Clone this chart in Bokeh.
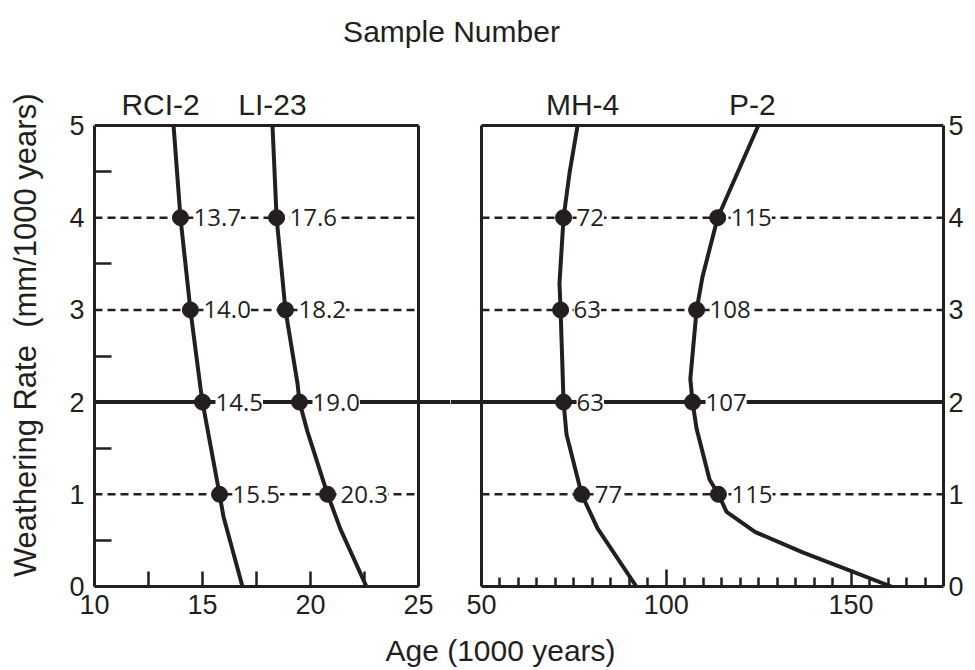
import math
from bokeh.plotting import figure
from bokeh.models import (ColumnDataSource, LabelSet, Label, Span, FixedTicker, Range1d)
from bokeh.layouts import row, column
from bokeh.embed import file_html
from bokeh.resources import INLINE
from bokeh.core.properties import value

# ---------------- data ----------------
rate_levels = [0, 1, 2, 3, 4, 5]
rate_minor = [0.5, 1.5, 2.5, 3.5, 4.5]
dashed_rates = [1, 3, 4]
solid_rate = 2
rate_lim = (0, 5)

left_xlim = (10, 25)
left_ticks = [10, 15, 20, 25]
left_minor = [12.5, 17.5, 22.5]
right_xlim = (50, 175)
right_ticks = [50, 100, 150]
right_minor = [55, 60, 65, 70, 75, 80, 85, 90, 95, 105, 110, 115, 120, 125,
               130, 135, 140, 145, 155, 160, 165, 170]

# curves (age in 1000 years, weathering rate in mm/1000 years)
rci2_age = [13.66, 13.98, 14.44, 14.91, 15.0, 15.79, 15.97, 16.85]
rci2_rate = [5, 4, 3, 2.15, 2, 1, 0.76, 0]
li23_age = [18.24, 18.43, 18.84, 19.4, 19.49, 19.86, 20.79, 21.39, 22.59]
li23_rate = [5, 4, 3, 2.2, 2, 1.68, 1, 0.62, 0]
mh4_age = [76.0, 73.8, 72.2, 71.1, 71.4, 72.2, 73.0, 77.1, 81.4, 91.9]
mh4_rate = [5, 4.48, 4, 3.29, 3, 2, 1.65, 1, 0.63, 0]
p2_age = [124.9, 113.9, 109.8, 108.2, 106.5, 107.1, 108.2, 111.7, 114.1,
          116.3, 124.1, 136.9, 160.9]
p2_rate = [5, 4, 3.36, 3, 2.25, 2, 1.71, 1.16, 1, 0.81, 0.59, 0.37, 0]

# marked points
dot_rates = [4, 3, 2, 1]
rci2_dot_age = [13.98, 14.44, 15.0, 15.79]
rci2_labels = ["13.7", "14.0", "14.5", "15.5"]
li23_dot_age = [18.43, 18.84, 19.49, 20.79]
li23_labels = ["17.6", "18.2", "19.0", "20.3"]
mh4_dot_age = [72.2, 71.4, 72.2, 77.1]
mh4_labels = ["72", "63", "63", "77"]
p2_dot_age = [113.9, 108.2, 107.1, 114.1]
p2_labels = ["115", "108", "107", "115"]

sample_names = ["RCI-2", "LI-23", "MH-4", "P-2"]
name_offsets = [-13, 0, 5, -6]

INK = "#231f20"
SANS = "Liberation Sans"
NUMF = "Open Sans"
BIG = "30px"

# layout (pixels)
YLAB_W, LB, FW_L, GAP_L, GAP_R, FW_R, RB = 48, 46, 324, 32, 31, 462, 24
TOTAL_W = YLAB_W + LB + FW_L + GAP_L + GAP_R + FW_R + RB
HEAD_H, NAMES_H, PANEL_H, BOT, FOOT_H = 55, 70, 461, 44, 38
MAIN_H = NAMES_H + PANEL_H + BOT

# ranges extended into the gap between panels and into the name band above
lpx = FW_L / (left_xlim[1] - left_xlim[0])
rpx = FW_R / (right_xlim[1] - right_xlim[0])
ypx = PANEL_H / (rate_lim[1] - rate_lim[0])
left_range = Range1d(left_xlim[0], left_xlim[1] + GAP_L / lpx)
right_range = Range1d(right_xlim[0] - GAP_R / rpx, right_xlim[1])
rate_range = Range1d(rate_lim[0], rate_lim[1] + NAMES_H / ypx)


def blank_fig(width, height, x_range, y_range, **kw):
    p = figure(width=width, height=height, x_range=x_range, y_range=y_range,
               x_axis_type=None, y_axis_type=None, output_backend="svg",
               toolbar_location=None, **kw)
    p.outline_line_color = None
    p.grid.visible = False
    p.border_fill_color = "white"
    return p


def base_fig(width, x_range, **kw):
    p = figure(width=width, height=MAIN_H, x_range=x_range, y_range=rate_range,
               output_backend="svg", toolbar_location=None,
               min_border_top=0, min_border_bottom=BOT, **kw)
    p.grid.visible = False
    p.outline_line_color = None
    p.background_fill_color = "white"
    p.border_fill_color = "white"
    return p


def style_axis(ax):
    ax.axis_line_color = INK
    ax.axis_line_width = 3
    ax.major_tick_line_color = INK
    ax.minor_tick_line_color = INK
    ax.major_tick_line_width = 2.5
    ax.minor_tick_line_width = 2.5
    ax.major_tick_out = 0
    ax.minor_tick_out = 0
    ax.major_label_text_font = SANS
    ax.major_label_text_font_size = "27px"
    ax.major_label_text_color = INK


def frame_box(p, xlim, side):
    # bottom edge and outer side come from the axes; draw top edge and inner side
    inner = xlim[1] if side == "right" else xlim[0]
    p.segment(x0=[xlim[0], inner], x1=[xlim[1], inner],
              y0=[rate_lim[1], rate_lim[0]], y1=[rate_lim[1], rate_lim[1]],
              line_color=INK, line_width=3)


def add_lines(p, xlim):
    n = len(dashed_rates)
    p.segment(x0=[xlim[0]] * n, x1=[xlim[1]] * n, y0=dashed_rates, y1=dashed_rates,
              line_color=INK, line_width=2.5, line_dash="8 5", level="underlay")
    p.add_layout(Span(location=solid_rate, dimension="width", line_color=INK,
                      line_width=4, level="underlay"))


def add_curve(p, ages, rates, dot_ages, labels, name, name_off):
    p.line(ages, rates, line_color=INK, line_width=4)
    src = ColumnDataSource(dict(x=dot_ages, y=dot_rates, t=labels))
    p.scatter("x", "y", source=src, size=16, color=INK)
    p.add_layout(LabelSet(x="x", y="y", text="t", source=src, x_offset=13,
                          text_baseline="middle", text_align="left",
                          text_font=value(NUMF), text_font_size="24px",
                          text_color=INK, background_fill_color="white"))
    p.add_layout(Label(x=ages[0], y=rates[0], x_offset=name_off, y_offset=21,
                       text=name, text_align="center", text_baseline="alphabetic",
                       text_font=SANS, text_font_size=BIG, text_color=INK))


# ---------------- left panel ----------------
left = base_fig(LB + FW_L + GAP_L, left_range, min_border_left=LB, min_border_right=0)
style_axis(left.xaxis[0])
style_axis(left.yaxis[0])
left.xaxis.bounds = left_xlim
left.xaxis.ticker = FixedTicker(ticks=left_ticks, minor_ticks=left_minor)
left.xaxis.major_tick_in = 15
left.xaxis.minor_tick_in = 15
left.xaxis.major_label_standoff = 8
left.yaxis.bounds = rate_lim
left.yaxis.ticker = FixedTicker(ticks=rate_levels, minor_ticks=rate_minor)
left.yaxis.major_tick_in = 0
left.yaxis.minor_tick_in = 17
left.yaxis.major_label_standoff = 10
frame_box(left, left_xlim, "right")
add_lines(left, left_xlim)
add_curve(left, rci2_age, rci2_rate, rci2_dot_age, rci2_labels,
          sample_names[0], name_offsets[0])
add_curve(left, li23_age, li23_rate, li23_dot_age, li23_labels,
          sample_names[1], name_offsets[1])

# ---------------- right panel ----------------
right = base_fig(GAP_R + FW_R + RB, right_range, y_axis_location="right",
                 min_border_left=0, min_border_right=RB)
style_axis(right.xaxis[0])
style_axis(right.yaxis[0])
right.xaxis.bounds = right_xlim
right.xaxis.ticker = FixedTicker(ticks=right_ticks, minor_ticks=right_minor)
right.xaxis.major_tick_in = 17
right.xaxis.minor_tick_in = 9
right.xaxis.major_label_standoff = 8
right.yaxis.bounds = rate_lim
right.yaxis.ticker = FixedTicker(ticks=rate_levels)
right.yaxis.major_tick_in = 0
right.yaxis.minor_tick_in = 0
right.yaxis.major_label_standoff = 5
frame_box(right, right_xlim, "left")
add_lines(right, right_xlim)
add_curve(right, mh4_age, mh4_rate, mh4_dot_age, mh4_labels,
          sample_names[2], name_offsets[2])
add_curve(right, p2_age, p2_rate, p2_dot_age, p2_labels,
          sample_names[3], name_offsets[3])

# ---------------- y axis title strip ----------------
ylab_h = NAMES_H + PANEL_H + BOT
ylab = blank_fig(YLAB_W, ylab_h, Range1d(0, YLAB_W), Range1d(0, ylab_h), min_border=0)
ylab.add_layout(Label(x=25, y=272, angle=math.pi / 2,
                      text="Weathering Rate\u00a0 (mm/1000 years)",
                      text_align="center", text_baseline="alphabetic",
                      text_font=SANS, text_font_size="31px", text_color=INK))

# ---------------- header and footer ----------------
head = blank_fig(TOTAL_W, HEAD_H, Range1d(0, TOTAL_W), Range1d(0, HEAD_H), min_border=0)
head.add_layout(Label(x=451, y=24, text="Sample Number", text_align="center",
                      text_baseline="alphabetic", text_font=SANS,
                      text_font_size=BIG, text_color=INK))

foot = blank_fig(TOTAL_W, FOOT_H, Range1d(0, TOTAL_W), Range1d(0, FOOT_H), min_border=0)
foot.add_layout(Label(x=500, y=18, text="Age (1000 years)", text_align="center",
                      text_baseline="alphabetic", text_font=SANS,
                      text_font_size=BIG, text_color=INK))

layout = column(head, row(ylab, left, right, spacing=0), foot, spacing=0)

with open("out.html", "w") as f:
    f.write(file_html(layout, INLINE))
